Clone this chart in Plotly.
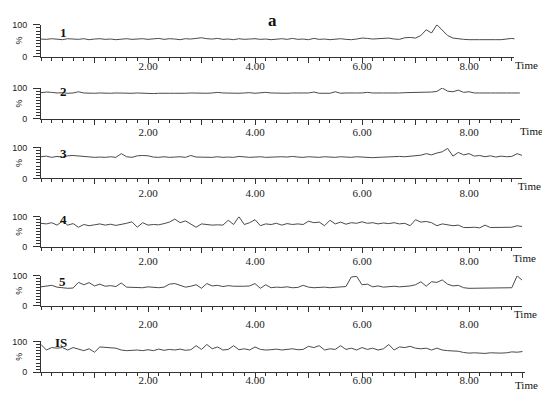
import plotly.graph_objects as go

# retention time grid (min)
TIME = [round(i * 0.1, 1) for i in range(91)]

PANEL_LABELS = ["1", "2", "3", "4", "5", "IS"]
X_TICKS = [1, 2, 3, 4, 5, 6, 7, 8, 9]
X_TICKTEXT = ["", "2.00", "", "4.00", "", "6.00", "", "8.00", ""]

# relative abundance (%)
S1 = [55, 54, 56, 55, 53, 56, 55, 54, 56, 53,
      55, 56, 54, 55, 53, 55, 56, 54, 55, 56,
      54, 55, 57, 54, 56, 55, 53, 56, 55, 57,
      59, 56, 55, 57, 54, 55, 53, 56, 54, 55,
      56, 54, 55, 53, 55, 56, 54, 57, 54, 55,
      53, 57, 54, 55, 53, 55, 56, 54, 53, 55,
      58, 57, 55, 56, 57, 58, 55, 54, 59, 60,
      58, 66, 84, 74, 100, 82, 66, 58, 55, 54,
      53, 54, 53, 53, 54, 53, 53, 55, 57, 54, 54]
S2 = [85, 87, 86, 84, 85, 83, 84, 88, 84, 83,
      83, 84, 83, 83, 84, 83, 82, 83, 84, 83,
      83, 82, 83, 84, 83, 83, 82, 83, 84, 83,
      84, 83, 84, 86, 84, 83, 84, 83, 84, 85,
      83, 84, 86, 84, 83, 84, 83, 84, 83, 84,
      84, 87, 83, 84, 83, 88, 83, 84, 83, 84,
      84, 86, 84, 83, 84, 84, 83, 84, 85, 85,
      86, 85, 86, 87, 89, 100, 90, 88, 93, 86,
      88, 84, 84, 83, 84, 84, 83, 84, 84, 83, 84]
S3 = [70, 72, 68, 71, 69, 73, 74, 72, 70, 68,
      68, 69, 68, 70, 68, 80, 70, 68, 73, 74,
      73, 69, 68, 70, 68, 69, 70, 68, 74, 69,
      68, 69, 68, 70, 68, 69, 68, 71, 69, 68,
      69, 70, 68, 69, 68, 70, 69, 71, 69, 68,
      70, 69, 68, 70, 69, 68, 70, 69, 68, 70,
      69, 67, 67, 68, 69, 70, 69, 71, 70, 72,
      73, 75, 80, 76, 82, 86, 97, 72, 84, 76,
      80, 72, 74, 70, 73, 69, 72, 70, 71, 80, 74]
S4 = [78, 76, 80, 72, 85, 72, 77, 65, 74, 70,
      73, 76, 72, 75, 71, 74, 78, 83, 65, 80,
      72, 74, 73, 77, 82, 92, 80, 86, 74, 65,
      76, 74, 72, 73, 72, 88, 74, 100, 74, 80,
      90, 70, 76, 74, 78, 72, 77, 74, 76, 74,
      85, 80, 82, 70, 88, 76, 82, 75, 80, 78,
      83, 78, 80, 76, 79, 77, 80, 76, 78, 70,
      90, 82, 84, 80, 70, 76, 72, 70, 72, 64,
      64, 65, 63, 72, 64, 64, 63, 64, 65, 70, 67]
S5 = [63, 65, 68, 62, 60, 58, 59, 78, 70, 77,
      66, 72, 65, 67, 64, 76, 62, 61, 62, 60,
      63, 61, 60, 62, 72, 74, 68, 62, 65, 70,
      58, 74, 66, 68, 64, 67, 65, 64, 65, 66,
      74, 58, 70, 60, 62, 61, 63, 60, 61, 68,
      62, 60, 61, 62, 60, 61, 63, 64, 96, 98,
      70, 72, 63, 66, 62, 64, 65, 63, 64, 66,
      70, 80, 65, 80, 78, 86, 72, 66, 68, 60,
      58, 58, 59, 58, 60, 58, 58, 59, 60, 100, 84]
S6 = [90, 72, 80, 78, 80, 72, 80, 74, 70, 76,
      65, 82, 80, 79, 78, 72, 70, 71, 72, 70,
      73, 70, 75, 71, 74, 72, 75, 71, 73, 86,
      74, 90, 76, 82, 72, 74, 86, 73, 76, 72,
      82, 74, 72, 73, 75, 72, 74, 76, 73, 74,
      84, 80, 86, 72, 76, 74, 86, 74, 78, 72,
      80, 74, 78, 72, 76, 90, 72, 82, 80, 84,
      78, 76, 78, 72, 78, 72, 70, 69, 68, 64,
      62, 63, 62, 61, 63, 62, 62, 63, 66, 65, 67]
SERIES = [S1, S2, S3, S4, S5, S6]
X_MAX = [8.85, 8.95, 8.99, 8.99, 8.99, 9.05]

# page pixels of the reference; the page body adds an 8px margin
W, H = 550, 399
OFF = 8
FIG_W, FIG_H = W - OFF, H - OFF
X0_PX = 41
PX_PER_MIN = 53.5
TOPS = [20, 85, 146, 217, 277.7, 345]
BOTTOMS = [52.7, 116.7, 177.7, 248, 308.3, 376.7]
XLAB_STANDOFF = [-6, -2, -1, -1, 3, -7]
LABEL_POS = [(63, 28), (63, 89), (63, 152), (63, 220), (62, 284), (61, 346)]
TIME_POS = [(526, 61), (531, 129), (529, 186), (524, 259), (525, 317), (526, 390)]

SERIF = "Liberation Serif"
AXIS_COLOR = "#333333"
LINE_COLOR = "#4a4a4a"


def px(x):
    return (x - OFF) / FIG_W


def py(y):
    return 1 - (y - OFF) / FIG_H


def note(x, y, text, size, family=SERIF, angle=0):
    return dict(x=px(x), y=py(y), xref="paper", yref="paper", text=text,
                xanchor="center", yanchor="middle", textangle=angle,
                showarrow=False, font=dict(family=family, size=size, color="#111"))


fig = go.Figure()
annotations = []

for i, (vals, label) in enumerate(zip(SERIES, PANEL_LABELS)):
    n = "" if i == 0 else str(i + 1)
    fig.add_trace(go.Scatter(x=TIME, y=vals, mode="lines",
                             line=dict(color=LINE_COLOR, width=1),
                             xaxis="x" + n, yaxis="y" + n,
                             showlegend=False, hoverinfo="skip"))

    x_end = X0_PX + PX_PER_MIN * X_MAX[i]
    fig.layout["xaxis" + n] = dict(
        domain=[px(X0_PX), px(x_end)], range=[0, X_MAX[i]],
        anchor="y" + n, showgrid=False, zeroline=False,
        showline=True, linecolor=AXIS_COLOR, linewidth=1,
        tickmode="array", tickvals=X_TICKS, ticktext=X_TICKTEXT,
        ticks="outside", ticklen=5, tickcolor=AXIS_COLOR, tickwidth=1,
        minor=dict(dtick=0.2, tick0=0, ticks="outside", ticklen=3,
                   tickcolor=AXIS_COLOR),
        ticklabelstandoff=XLAB_STANDOFF[i],
        tickfont=dict(family=SERIF, size=11, color="#222"),
        fixedrange=True)
    fig.layout["yaxis" + n] = dict(
        domain=[py(BOTTOMS[i]), py(TOPS[i])], range=[0, 100],
        anchor="x" + n, showgrid=False, zeroline=False,
        showline=True, linecolor=AXIS_COLOR, linewidth=1,
        tickmode="array", tickvals=[0, 100], ticktext=["0", "100"],
        ticks="outside", ticklen=7, tickcolor=AXIS_COLOR, tickwidth=1,
        minor=dict(dtick=10, tick0=0, ticks="outside", ticklen=4,
                   tickcolor=AXIS_COLOR),
        ticklabelstandoff=4,
        tickfont=dict(family="Liberation Sans", size=9, color="#222"),
        fixedrange=True)

    annotations.append(note(LABEL_POS[i][0], LABEL_POS[i][1], "<b>%s</b>" % label, 13))
    annotations.append(note(19, (TOPS[i] + BOTTOMS[i]) / 2, "%", 9,
                            family="Liberation Sans", angle=-90))
    annotations.append(note(TIME_POS[i][0], TIME_POS[i][1], "Time", 11))

# panel title, kept just inside the top edge of the figure
annotations.append(note(272, 16, "<b>a</b>", 17))

fig.update_layout(width=FIG_W, height=FIG_H, margin=dict(l=0, r=0, t=0, b=0),
                  paper_bgcolor="white", plot_bgcolor="white",
                  annotations=annotations)

fig.write_html("out.html")
